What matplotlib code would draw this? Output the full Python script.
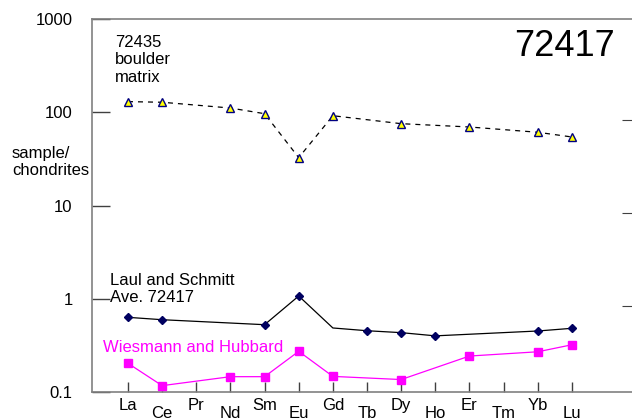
import matplotlib
matplotlib.use('Agg')
import matplotlib.pyplot as plt
import numpy as np

plt.rcParams['font.family'] = ['Liberation Sans', 'DejaVu Sans']

elements = ['La', 'Ce', 'Pr', 'Nd', 'Sm', 'Eu', 'Gd', 'Tb', 'Dy', 'Ho', 'Er', 'Tm', 'Yb', 'Lu']
nan = np.nan

# 72435 boulder matrix
boulder = [130, 128, nan, 111, 96.5, 32.6, 91.8, nan, 75.4, nan, 69.5, nan, 61, 54.3]
# Laul and Schmitt average 72417 (Gd has no symbol)
laul_line = [0.632, 0.596, nan, nan, 0.527, 1.07, 0.486, 0.454, 0.433, 0.40, nan, nan, 0.451, 0.482]
laul_mark = [0.632, 0.596, nan, nan, 0.527, 1.07, nan, 0.454, 0.433, 0.40, nan, nan, 0.451, 0.482]
# Wiesmann and Hubbard
wiesmann = [0.203, 0.117, nan, 0.146, 0.146, 0.273, 0.147, nan, 0.136, nan, 0.243, nan, 0.270, 0.321]

x = np.arange(len(elements))


def connected(vals):
    v = np.array(vals, dtype=float)
    m = ~np.isnan(v)
    return x[m], v[m]


fig = plt.figure(figsize=(6.32, 4.2), dpi=100)
ax = fig.add_axes([92 / 632, 1 - 392 / 420, 540 / 632, 373 / 420])

bx, by = connected(boulder)
ax.plot(bx, by, color='black', lw=0.9, ls=(0, (4, 4)), zorder=2)
ax.plot(bx, by, ls='none', marker='^', ms=5.5, mfc='yellow', mec='#000080', mew=1.0, zorder=3)

lx, ly = connected(laul_line)
ax.plot(lx, ly, color='black', lw=0.9, zorder=2)
mx, my = connected(laul_mark)
ax.plot(mx, my, ls='none', marker='D', ms=4.5, mfc='#000060', mec='#000060', zorder=3)

wx, wy = connected(wiesmann)
ax.plot(wx, wy, color='#ff00ff', lw=0.9, marker='s', ms=5.5, mfc='#ff00ff', mec='#ff00ff', zorder=3)

ax.set_yscale('log')
ax.set_ylim(0.1, 1000)
ax.set_xlim(-1.054, 14.76)
ax.set_yticks([0.1, 1, 10, 100, 1000])
ax.set_yticklabels(['0.1', '1', '10', '100', '1000'])
ax.yaxis.set_minor_locator(matplotlib.ticker.NullLocator())
ax.tick_params(axis='y', direction='in', length=13, width=1, color='#404040',
               labelsize=12, pad=14)
ax.set_xticks(x)
ax.set_xticklabels([])
ax.tick_params(axis='x', direction='in', length=7, width=1, color='#404040')

for i, name in enumerate(elements):
    off = -4 if i % 2 == 0 else -10
    ax.annotate(name, xy=(i, 0), xycoords=('data', 'axes fraction'),
                xytext=(0, off), textcoords='offset points',
                ha='center', va='top', fontsize=12)

for s in ['left', 'top', 'bottom']:
    ax.spines[s].set_color('#808080')
    ax.spines[s].set_linewidth(1.2)
ax.spines['right'].set_visible(False)

# right-hand small ticks
ax2 = ax.twinx()
ax2.set_yscale('log')
ax2.set_ylim(0.12, 1200)
ax2.set_yticks([1, 10, 100])
ax2.yaxis.set_minor_locator(matplotlib.ticker.NullLocator())
ax2.set_yticklabels([])
ax2.tick_params(axis='y', direction='in', length=7, color='#404040')
for s in ax2.spines.values():
    s.set_visible(False)

ax.text(615 / 632, 1 - 47 / 420, '72417', transform=fig.transFigure, fontsize=26, ha='right', va='center')
ax.text(115 / 632, 1 - 35 / 420, '72435\nboulder\nmatrix', transform=fig.transFigure,
        fontsize=12, ha='left', va='top', linespacing=1.2)
ax.text(12 / 632, 1 - 146 / 420, 'sample/\nchondrites', transform=fig.transFigure,
        fontsize=12, ha='left', va='top', linespacing=1.2)
ax.text(110 / 632, 1 - 273 / 420, 'Laul and Schmitt\nAve. 72417', transform=fig.transFigure,
        fontsize=12, ha='left', va='top', linespacing=1.2)
ax.text(103 / 632, 1 - 347 / 420, 'Wiesmann and Hubbard', transform=fig.transFigure,
        fontsize=12, ha='left', va='center', color='#ff00ff')

fig.savefig('out.png', dpi=100)
